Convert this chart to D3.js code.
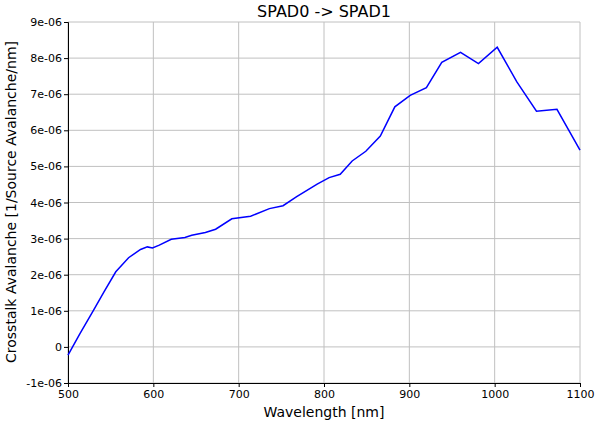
<!DOCTYPE html>
<html><head><meta charset="utf-8">
<script src="https://cdn.jsdelivr.net/npm/d3@7"></script>
<style>body{margin:0;background:#fff}text{font-family:"DejaVu Sans",sans-serif}</style>
</head><body><svg width="600" height="427"></svg>
<script>
// wavelength [nm] and crosstalk (units of 1e-6)
const wavelength = [500,514,530,542,556,571,585,593,599,607,621,637,645,661,673,692,714,736,752,768,792,806,819,833,849,866,883,901,920,938,960,981,1003,1026,1049,1073,1100];
const crosstalk = [-0.23,0.37,1.02,1.52,2.08,2.47,2.7,2.77,2.74,2.82,2.98,3.03,3.09,3.17,3.26,3.55,3.62,3.83,3.91,4.16,4.51,4.69,4.78,5.15,5.42,5.84,6.65,6.97,7.18,7.88,8.16,7.85,8.30,7.34,6.53,6.58,5.45];
const xTicks = [500,600,700,800,900,1000,1100];
const yTicks = [-1,0,1,2,3,4,5,6,7,8,9];

let svg = d3.select("svg");
let x = d3.scaleLinear().domain([500,1100]).range([68,580]);
let y = d3.scaleLinear().domain([-1,9]).range([383,22]);

// grid
svg.append("g").selectAll("line").data(xTicks).join("line")
  .attr("x1", d => x(d)).attr("x2", d => x(d)).attr("y1", 22).attr("y2", 383)
  .attr("stroke", "#c0c0c0");
svg.append("g").selectAll("line").data(yTicks).join("line")
  .attr("x1", 68).attr("x2", 580).attr("y1", d => y(d)).attr("y2", d => y(d))
  .attr("stroke", "#c0c0c0");

let fmt = d => d == 0 ? "0" : d + "e-06";
let yAx = svg.append("g").attr("transform", "translate(68,0)")
  .call(d3.axisLeft(y).tickValues(yTicks).tickFormat(fmt).tickSize(4).tickPadding(2));
let xAx = svg.append("g").attr("transform", "translate(0,383)")
  .call(d3.axisBottom(x).tickValues(xTicks).tickFormat(d => String(d)).tickSize(4).tickPadding(3));
[yAx, xAx].forEach(a => {
  a.selectAll("text").attr("font-size", 11).attr("fill", "#000").attr("font-family", "DejaVu Sans");
  a.selectAll("path,line").attr("stroke", "#000");
});

svg.append("path").datum(d3.range(wavelength.length))
  .attr("fill", "none").attr("stroke", "#0000ff").attr("stroke-width", 1.5)
  .attr("d", d3.line().x(i => x(wavelength[i])).y(i => y(crosstalk[i])));

svg.append("text").attr("x", 324).attr("y", 17).attr("text-anchor", "middle")
  .attr("font-size", 16).text("SPAD0 -> SPAD1");
svg.append("text").attr("x", 324).attr("y", 417).attr("text-anchor", "middle")
  .attr("font-size", 14).text("Wavelength [nm]");
svg.append("text").attr("transform", "translate(16,202) rotate(-90)").attr("text-anchor", "middle")
  .attr("font-size", 14).text("Crosstalk Avalanche [1/Source Avalanche/nm]");
</script></body></html>
